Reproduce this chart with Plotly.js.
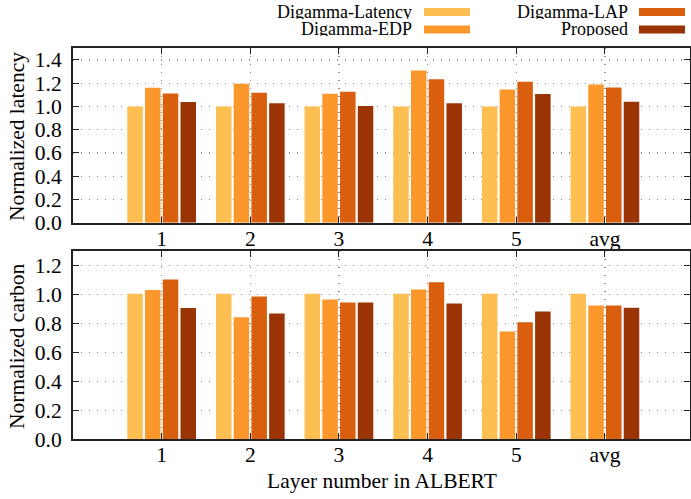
<!DOCTYPE html>
<html>
<head>
<meta charset="utf-8">
<script src="https://cdn.plot.ly/plotly-3.0.1.min.js"></script>
<style>html,body{margin:0;padding:0;background:#fff;}#chart{width:691px;height:499px;}</style>
</head>
<body>
<div id="chart"></div>
<script>
const categories = ["1", "2", "3", "4", "5", "avg"];
const seriesNames = ["Digamma-Latency", "Digamma-EDP", "Digamma-LAP", "Proposed"];
const seriesColors = ["#fdbf52", "#fb972b", "#d95e0e", "#9a3405"];

const latencyLatency = [1.0, 1.0, 1.0, 1.0, 1.0, 1.0];
const latencyEDP = [1.16, 1.195, 1.11, 1.31, 1.145, 1.188];
const latencyLAP = [1.112, 1.118, 1.126, 1.233, 1.213, 1.162];
const latencyProposed = [1.038, 1.027, 1.003, 1.027, 1.106, 1.041];

const carbonLatency = [1.005, 1.005, 1.005, 1.005, 1.005, 1.005];
const carbonEDP = [1.03, 0.843, 0.965, 1.034, 0.744, 0.923];
const carbonLAP = [1.103, 0.986, 0.944, 1.085, 0.808, 0.923];
const carbonProposed = [0.907, 0.868, 0.944, 0.937, 0.882, 0.909];

const latencySeries = [latencyLatency, latencyEDP, latencyLAP, latencyProposed];
const carbonSeries = [carbonLatency, carbonEDP, carbonLAP, carbonProposed];

const FONT = "'Liberation Serif', 'Times New Roman', serif";
const AX_SIZE = 21.5;
const W = 691, H = 499;

const traces = [];
seriesNames.forEach((name, i) => {
  traces.push({type: "bar", x: categories, y: latencySeries[i], name: name,
    marker: {color: seriesColors[i], line: {width: 0}}, xaxis: "x", yaxis: "y", showlegend: false});
});
seriesNames.forEach((name, i) => {
  traces.push({type: "bar", x: categories, y: carbonSeries[i], name: name,
    marker: {color: seriesColors[i], line: {width: 0}}, xaxis: "x2", yaxis: "y2", showlegend: false});
});

function px2fy(p) { return 1 - p / H; }
function px2fx(p) { return p / W; }

const xCommon = {
  type: "category", range: [-1, 5.96], showgrid: true, gridcolor: "#8c8c8c", griddash: "1px,7px", gridwidth: 1.2,
  showline: true, linecolor: "#222", linewidth: 2, mirror: "allticks", ticks: "inside", ticklen: 6, tickcolor: "#222",
  tickfont: {family: FONT, size: AX_SIZE, color: "#000"}, zeroline: false, automargin: false, ticklabelstandoff: -5
};
const yCommon = {
  showgrid: true, gridcolor: "#8c8c8c", griddash: "1px,7px", gridwidth: 1.2,
  showline: true, linecolor: "#222", linewidth: 2, mirror: "allticks", ticks: "inside", ticklen: 6, tickcolor: "#222",
  tickfont: {family: FONT, size: AX_SIZE, color: "#000"}, zeroline: false, automargin: false, tickformat: ".1f",
  ticklabelstandoff: 5
};

const xDom = [px2fx(73), px2fx(690)];

const annotations = [];
const shapes = [];
// legend (gnuplot-style: text right-aligned before swatch)
const legendPos = [
  {tx: 414, sx0: 424, sx1: 470, yc: 11.5},
  {tx: 414, sx0: 424, sx1: 470, yc: 29},
  {tx: 630, sx0: 639, sx1: 685, yc: 11.5},
  {tx: 630, sx0: 639, sx1: 685, yc: 29}
];
seriesNames.forEach((name, i) => {
  const p = legendPos[i];
  annotations.push({xref: "paper", yref: "paper", x: px2fx(p.tx), y: px2fy(p.yc), xanchor: "right", yanchor: "middle",
    text: name, showarrow: false, height: 15, valign: "middle", font: {family: FONT, size: 18, color: "#000"}});
  shapes.push({type: "rect", xref: "paper", yref: "paper", x0: px2fx(p.sx0), x1: px2fx(p.sx1),
    y0: px2fy(p.yc + 4.5), y1: px2fy(p.yc - 3.5), fillcolor: seriesColors[i], line: {width: 0}});
});
// axis titles
annotations.push({xref: "paper", yref: "paper", x: px2fx(17), y: px2fy(137), xanchor: "center", yanchor: "middle",
  text: "Normalized latency", textangle: -90, showarrow: false, font: {family: FONT, size: AX_SIZE, color: "#000"}});
annotations.push({xref: "paper", yref: "paper", x: px2fx(17), y: px2fy(346), xanchor: "center", yanchor: "middle",
  text: "Normalized carbon", textangle: -90, showarrow: false, font: {family: FONT, size: AX_SIZE, color: "#000"}});
annotations.push({xref: "paper", yref: "paper", x: px2fx(382), y: px2fy(481), xanchor: "center", yanchor: "middle",
  text: "Layer number in ALBERT", showarrow: false, font: {family: FONT, size: AX_SIZE, color: "#000"}});

const layout = {
  width: W, height: H,
  margin: {l: 0, r: 0, t: 0, b: 0},
  paper_bgcolor: "#fff", plot_bgcolor: "#fff",
  barmode: "group", bargap: 0.2, bargroupgap: 0.125,
  font: {family: FONT, size: AX_SIZE, color: "#000"},
  xaxis: Object.assign({}, xCommon, {domain: xDom, anchor: "y"}),
  yaxis: Object.assign({}, yCommon, {domain: [px2fy(222.7), px2fy(48.3)], range: [0, 1.5], dtick: 0.2, tick0: 0, anchor: "x"}),
  xaxis2: Object.assign({}, xCommon, {domain: xDom, anchor: "y2"}),
  yaxis2: Object.assign({}, yCommon, {domain: [px2fy(439.3), px2fy(251)], range: [0, 1.3], dtick: 0.2, tick0: 0, anchor: "x2"}),
  annotations: annotations,
  shapes: shapes,
  showlegend: false
};

Plotly.newPlot("chart", traces, layout, {displayModeBar: false, staticPlot: true});
</script>
</body>
</html>
